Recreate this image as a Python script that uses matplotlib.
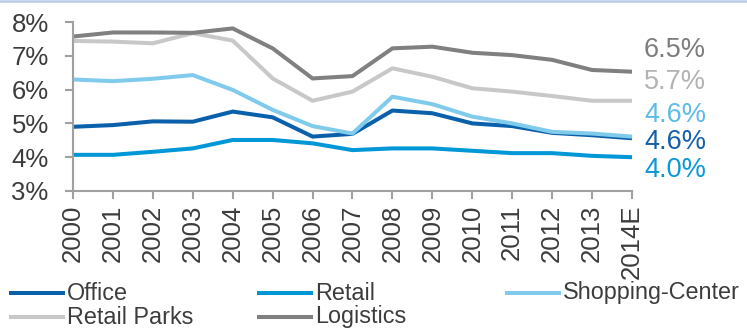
import matplotlib
matplotlib.use("Agg")
import matplotlib.pyplot as plt
from matplotlib.lines import Line2D

plt.rcParams['font.family'] = ['Liberation Sans', 'DejaVu Sans']

# Prime yields by property segment, in percent
years = ['2000', '2001', '2002', '2003', '2004', '2005', '2006', '2007',
         '2008', '2009', '2010', '2011', '2012', '2013', '2014E']
office = [4.90, 4.95, 5.06, 5.05, 5.35, 5.18, 4.61, 4.69, 5.38, 5.30, 5.00, 4.92, 4.72, 4.65, 4.56]
retail = [4.07, 4.07, 4.16, 4.26, 4.51, 4.51, 4.41, 4.21, 4.26, 4.26, 4.19, 4.12, 4.12, 4.04, 4.00]
shopping_center = [6.30, 6.25, 6.32, 6.43, 5.99, 5.40, 4.92, 4.70, 5.79, 5.57, 5.20, 5.00, 4.75, 4.70, 4.61]
retail_parks = [7.44, 7.42, 7.37, 7.67, 7.45, 6.33, 5.67, 5.94, 6.63, 6.38, 6.04, 5.94, 5.81, 5.67, 5.67]
logistics = [7.57, 7.69, 7.69, 7.68, 7.81, 7.22, 6.33, 6.40, 7.22, 7.27, 7.09, 7.02, 6.88, 6.58, 6.53]

y_ticks = [3, 4, 5, 6, 7, 8]
y_tick_labels = ['3%', '4%', '5%', '6%', '7%', '8%']

series = [
    ('Office', office, '#0b60ab', '#1560a8'),
    ('Retail', retail, '#0097d7', '#0a98d6'),
    ('Shopping-Center', shopping_center, '#80cbec', '#5cbce6'),
    ('Retail Parks', retail_parks, '#c8c8c8', '#b3b3b3'),
    ('Logistics', logistics, '#808080', '#7d7d7d'),
]

# end-label offsets (points) relative to the last data point
label_dy = {'Office': -2.7, 'Retail': -9.2, 'Shopping-Center': 15.5,
            'Retail Parks': 13.7, 'Logistics': 15.6}

W, H = 747, 329
fig = plt.figure(figsize=(W / 100, H / 100), dpi=100)
ax = fig.add_axes([73 / W, 1 - 191 / H, (632 - 73) / W, (191 - 22) / H])

x = list(range(len(years)))
for name, vals, color, _ in series:
    ax.plot(x, vals, color=color, lw=2.9, solid_capstyle='butt',
            solid_joinstyle='miter', clip_on=False)

for name, vals, _, tcolor in series:
    ax.annotate(f'{vals[-1]:.1f}%', xy=(x[-1], vals[-1]), xytext=(8.6, label_dy[name]),
                textcoords='offset points', ha='left', va='center',
                fontsize=19.5, color=tcolor)

ax.set_xlim(0, len(years) - 1)
ax.set_ylim(3, 8)
ax.set_xticks(x)
ax.set_xticklabels(years, rotation=90, fontsize=18.5, color='#3c3c3c')
ax.set_yticks(y_ticks)
ax.set_yticklabels(y_tick_labels, fontsize=18.5, color='#3c3c3c')

axis_color = '#a0a0a0'
for s in ['top', 'right']:
    ax.spines[s].set_visible(False)
for s in ['left', 'bottom']:
    ax.spines[s].set_color(axis_color)
    ax.spines[s].set_linewidth(1.5)
ax.tick_params(axis='both', direction='out', length=5.5, width=1.5, color=axis_color)
ax.tick_params(axis='x', pad=4.5)
ax.tick_params(axis='y', pad=12)

# thin rule along the top edge
fig.add_artist(Line2D([0, 1], [1 - 1.2 / H] * 2, transform=fig.transFigure,
                      color='#b8cde5', lw=1.8))

# legend laid out in a 3-column grid
col_x = [9, 257, 505]
row_y = [293, 317]
for i, (name, vals, color, _) in enumerate(series):
    cx = col_x[i % 3]
    ry = row_y[i // 3]
    fig.add_artist(Line2D([cx / W, (cx + 56) / W], [1 - ry / H] * 2,
                          transform=fig.transFigure, color=color, lw=2.9,
                          solid_capstyle='butt'))
    fig.text((cx + 58) / W, 1 - ry / H, name, ha='left', va='center',
             fontsize=16.8, color='#3c3c3c')

fig.savefig('out.png', dpi=100)
